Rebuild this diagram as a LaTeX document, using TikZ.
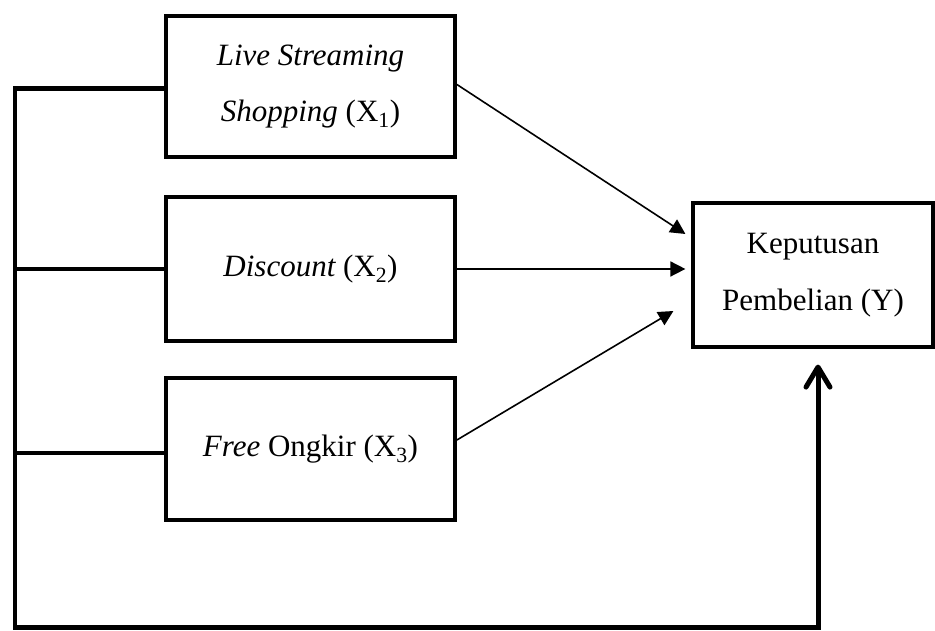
\documentclass[tikz,border=0pt]{standalone}
\usepackage{fontspec}
\setmainfont{Liberation Serif}
\usetikzlibrary{arrows.meta,calc}
\begin{document}
\begin{tikzpicture}[x=1pt,y=1pt,
  varbox/.style={draw, line width=3.8pt, minimum width=289pt, align=center, inner sep=0pt,
    font=\fontsize{31}{56}\selectfont},
  ybox/.style={draw, line width=3.2pt, minimum width=240pt, minimum height=144pt, align=center, inner sep=0pt,
    font=\fontsize{31}{57}\selectfont},
  thinarrow/.style={line width=1.6pt, -{Triangle[length=15pt,width=15pt]}},
  bus/.style={line width=4.5pt, line cap=rect},
  busarrow/.style={line width=5pt, -{Straight Barb[length=20pt,width=24pt,round]}}
]
\useasboundingbox (0,0) rectangle (935,631);
\node[varbox, minimum height=141pt] (X1) at (310.5,544.5) {\itshape Live Streaming\\\itshape Shopping \upshape(X\textsubscript{1})};
\node[varbox, minimum height=144pt] (X2) at (310.5,362) {\itshape Discount \upshape(X\textsubscript{2})};
\node[varbox, minimum height=142pt] (X3) at (310.5,182) {\itshape Free \upshape Ongkir (X\textsubscript{3})};
\node[ybox] (Y) at (813,356) {Keputusan\\Pembelian (Y)};
\coordinate (BL) at (15,3);
\coordinate (BR) at (818,3);
\draw[thinarrow] ([yshift=2pt]X1.east) -- ([xshift=-6pt,yshift=41pt]Y.west);
\draw[thinarrow] (X2.east) -- ([xshift=-6pt,yshift=6pt]Y.west);
\draw[thinarrow] ([yshift=9pt]X3.east) -- ([xshift=-18pt,yshift=-36pt]Y.west);
\draw[bus] ([yshift=-2pt]X1.west) -| (BL);
\draw[bus] (X2.west) -- (X2.west -| BL);
\draw[bus] ([yshift=-4pt]X3.west) -- ([yshift=-4pt]X3.west -| BL);
\draw[busarrow] (BL) -- (BR) -- ([xshift=5pt,yshift=-16pt]Y.south);
\end{tikzpicture}
\end{document}
